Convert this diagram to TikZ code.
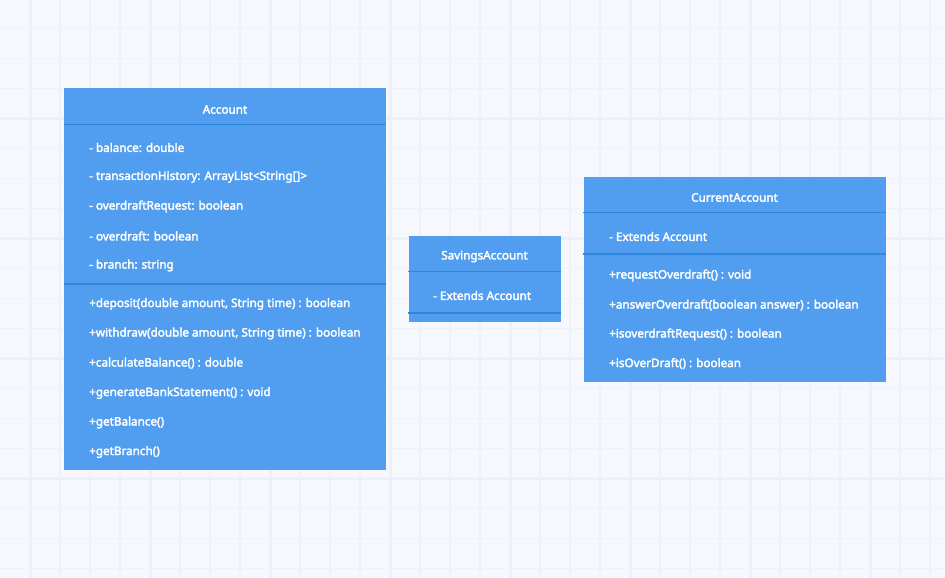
\documentclass[tikz,border=0pt]{standalone}
\usepackage{fontspec}
\setmainfont{Noto Sans}
\newcommand\embtxt[1]{\special{pdf:literal direct 2 Tr 0.3 w}#1\special{pdf:literal direct 0 Tr}}
\definecolor{bgc}{HTML}{F7F8FD}
\definecolor{gridminor}{HTML}{F0F2FA}
\definecolor{gridmajor}{HTML}{EDF0FA}
\definecolor{boxfill}{HTML}{519EF1}
\definecolor{divline}{HTML}{2F86DF}
\tikzset{
  classbox/.style={fill=boxfill, draw=none, anchor=north west, inner sep=0pt},
  divider/.style={draw=divline, line width=1.2pt},
  titletxt/.style={text=white, inner sep=0pt, anchor=center, font=\fontsize{11.7}{14}\selectfont},
  membertxt/.style={text=white, inner sep=0pt, anchor=west, font=\fontsize{11.7}{14}\selectfont},
  minorline/.style={draw=gridminor, line width=1.2pt},
  majorline/.style={draw=gridmajor, line width=3pt}
}
\begin{document}
\begin{tikzpicture}[x=1pt,y=-1pt]
\fill[bgc] (0,0) rectangle (945,578);
\useasboundingbox (0,0) rectangle (945,578);
% grid
\foreach \i in {1,...,31} \draw[minorline] (30*\i,0) -- (30*\i,578);
\foreach \j in {0,...,18} \draw[minorline] (0,28.5+30*\j) -- (945,28.5+30*\j);
\foreach \i in {0,...,7} \draw[majorline] (30+120*\i,0) -- (30+120*\i,578);
\foreach \j in {0,...,3} \draw[majorline] (0,118.5+120*\j) -- (945,118.5+120*\j);

% Account
\node[classbox, minimum width=322pt, minimum height=382pt] (account) at (64,88) {};
\draw[divider] (account.west |- 0,124.3) coordinate (ad1) -- (account.east |- 0,124.3) coordinate (ad2);
\draw[divider] (account.west |- 0,284) coordinate (ad3) -- (account.east |- 0,284) coordinate (ad4);
\node[titletxt] (accountT) at (225,109.5) {\embtxt{Account}};
\node[membertxt] (a1) at (89,147.5) {\embtxt{- balance: double}};
\node[membertxt] (a2) at (89,177) {\embtxt{- transactionHistory: ArrayList\textless String[]\textgreater}};
\node[membertxt] (a3) at (89,206.5) {\embtxt{- overdraftRequest: boolean}};
\node[membertxt] (a4) at (89,236) {\embtxt{- overdraft: boolean}};
\node[membertxt] (a5) at (89,265.5) {\embtxt{- branch: string}};
\node[membertxt] (m1) at (89,304) {\embtxt{+deposit(double amount, String time) : boolean}};
\node[membertxt] (m2) at (89,333.5) {\embtxt{+withdraw(double amount, String time) : boolean}};
\node[membertxt] (m3) at (89,363) {\embtxt{+calculateBalance() : double}};
\node[membertxt] (m4) at (89,393) {\embtxt{+generateBankStatement() : void}};
\node[membertxt] (m5) at (89,422.5) {\embtxt{+getBalance()}};
\node[membertxt] (m6) at (89,452) {\embtxt{+getBranch()}};

% SavingsAccount
\node[classbox, minimum width=152.5pt, minimum height=86pt] (savings) at (408.3,236) {};
\draw[divider] (savings.west |- 0,271.8) -- (savings.east |- 0,271.8);
\draw[divider] (savings.west |- 0,313) -- (savings.east |- 0,313);
\node[titletxt] (savingsT) at (484.5,256.5) {\embtxt{SavingsAccount}};
\node[membertxt] (s1) at (433,295.5) {\embtxt{- Extends Account}};

% CurrentAccount
\node[classbox, minimum width=302.5pt, minimum height=204.5pt] (current) at (583.3,177) {};
\draw[divider] (current.west |- 0,212.8) -- (current.east |- 0,212.8);
\draw[divider] (current.west |- 0,254) -- (current.east |- 0,254);
\node[titletxt] (currentT) at (734.5,197.5) {\embtxt{CurrentAccount}};
\node[membertxt] (c1) at (609,236.5) {\embtxt{- Extends Account}};
\node[membertxt] (c2) at (609,275.5) {\embtxt{+requestOverdraft() : void}};
\node[membertxt] (c3) at (609,305) {\embtxt{+answerOverdraft(boolean answer) : boolean}};
\node[membertxt] (c4) at (609,334.5) {\embtxt{+isoverdraftRequest() : boolean}};
\node[membertxt] (c5) at (609,363.5) {\embtxt{+isOverDraft() : boolean}};
\end{tikzpicture}
\end{document}
